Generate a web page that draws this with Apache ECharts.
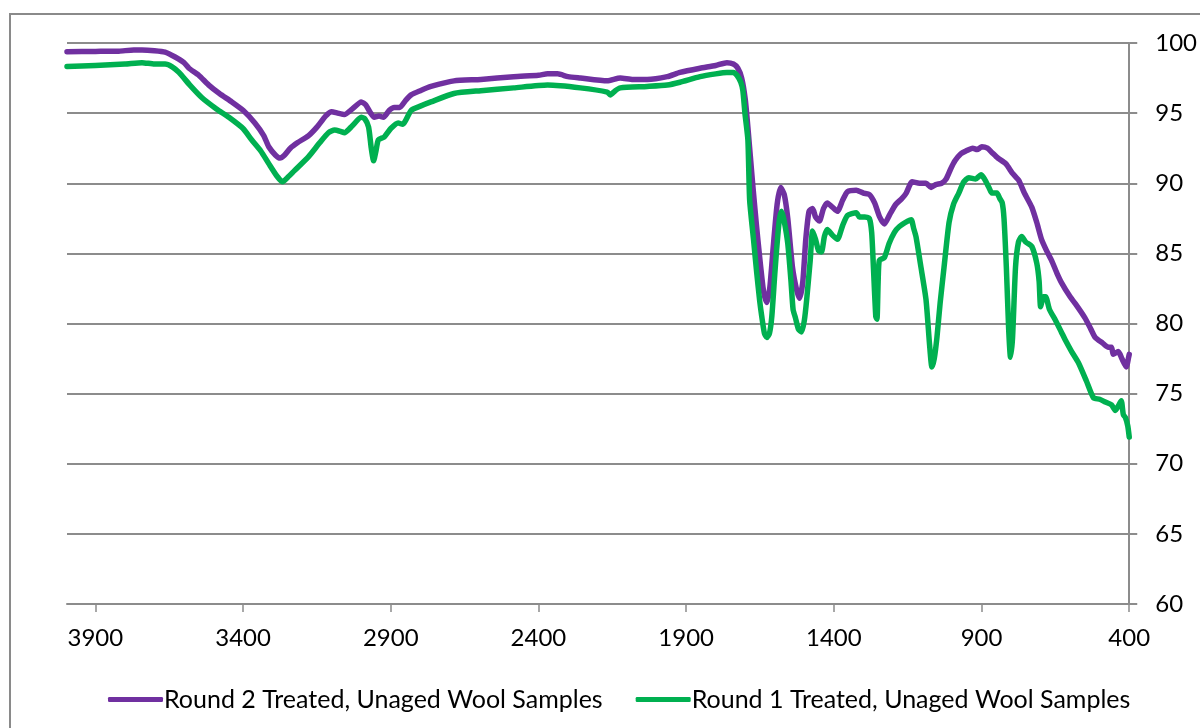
<!DOCTYPE html>
<html>
<head>
<meta charset="utf-8">
<script src="https://cdn.jsdelivr.net/npm/echarts@6/dist/echarts.min.js"></script>
<style>
  html, body { margin: 0; padding: 0; background: #ffffff; }
  #chart { width: 1200px; height: 728px; }
</style>
</head>
<body>
<div id="chart"></div>
<script>
// FTIR spectra of treated, unaged wool: % transmittance vs wavenumber (cm-1)
const seriesNames = ['Round 2 Treated, Unaged Wool Samples', 'Round 1 Treated, Unaged Wool Samples'];
const xTickValues = [400, 900, 1400, 1900, 2400, 2900, 3400, 3900];
const yTickValues = [60, 65, 70, 75, 80, 85, 90, 95, 100];

// Round 2 spectrum
const round2Wavenumber = [
  3996, 3900, 3820, 3770, 3742, 3700, 3664, 3630, 3600, 3583, 3550, 3516, 3480, 3438, 3400, 3360,
  3330, 3313, 3290, 3275, 3260, 3240, 3215, 3178, 3150, 3120, 3100, 3080, 3057, 3030, 3000, 2985,
  2968, 2956, 2940, 2925, 2905, 2888, 2870, 2850, 2831, 2800, 2764, 2686, 2595, 2484, 2400, 2369,
  2335, 2300, 2258, 2167, 2123, 2080, 2032, 1964, 1921, 1853, 1800, 1762, 1740, 1725, 1712, 1700,
  1691, 1675, 1662, 1651, 1640, 1634, 1627, 1617, 1605, 1592, 1580, 1568, 1556, 1540, 1525, 1516,
  1505, 1495, 1484, 1472, 1462, 1449, 1435, 1422, 1405, 1388, 1370, 1354, 1324, 1300, 1280, 1262,
  1245, 1229, 1210, 1190, 1170, 1155, 1135, 1110, 1088, 1071, 1055, 1035, 1020, 1005, 990, 970,
  953, 930, 915, 899, 880, 865, 845, 818, 795, 774, 755, 730, 713, 697, 680, 663,
  645, 629, 600, 582, 550, 530, 515, 490, 471, 460, 454, 437, 425, 410, 402, 400
];
const round2Transmittance = [
  99.38, 99.4, 99.42, 99.5, 99.5, 99.45, 99.35, 99.0, 98.6, 98.2, 97.7, 97.0, 96.4, 95.8, 95.2, 94.3,
  93.4, 92.6, 92.0, 91.8, 92.0, 92.5, 92.9, 93.4, 94.0, 94.8, 95.1, 95.0, 94.9, 95.3, 95.8, 95.6,
  95.0, 94.7, 94.8, 94.7, 95.2, 95.4, 95.4, 95.9, 96.3, 96.6, 96.9, 97.3, 97.4, 97.6, 97.7, 97.8,
  97.8, 97.6, 97.5, 97.3, 97.5, 97.4, 97.4, 97.6, 97.9, 98.2, 98.4, 98.6, 98.5, 98.2, 97.5, 96.0,
  94.0, 90.0, 87.0, 84.7, 82.6, 81.9, 81.5, 82.5, 85.5, 88.5, 89.7, 89.2, 87.5, 84.0, 82.3, 81.8,
  83.0, 86.0, 88.0, 88.2, 87.6, 87.3, 88.2, 88.6, 88.3, 88.0, 88.8, 89.4, 89.5, 89.3, 89.2, 88.6,
  87.6, 87.1, 87.8, 88.5, 88.9, 89.3, 90.1, 90.0, 90.0, 89.7, 89.9, 90.0, 90.3, 91.0, 91.6, 92.1,
  92.3, 92.5, 92.4, 92.6, 92.5, 92.2, 91.8, 91.4, 90.7, 90.2, 89.3, 88.3, 87.2, 86.0, 85.2, 84.5,
  83.6, 82.9, 81.9, 81.4, 80.4, 79.6, 79.0, 78.6, 78.3, 78.3, 77.8, 78.0, 77.5, 76.9, 77.6, 77.8
];

// Round 1 spectrum
const round1Wavenumber = [
  3996, 3900, 3800, 3742, 3700, 3664, 3640, 3617, 3580, 3539, 3490, 3448, 3400, 3371, 3340, 3313,
  3285, 3266, 3250, 3226, 3178, 3140, 3111, 3090, 3070, 3057, 3030, 3000, 2988, 2975, 2966, 2958,
  2950, 2942, 2922, 2900, 2875, 2860, 2831, 2800, 2764, 2686, 2595, 2484, 2369, 2258, 2167, 2157,
  2140, 2123, 2032, 1964, 1921, 1853, 1800, 1762, 1740, 1728, 1715, 1708, 1701, 1691, 1685, 1672,
  1661, 1651, 1644, 1635, 1627, 1618, 1610, 1600, 1594, 1585, 1577, 1568, 1556, 1545, 1538, 1530,
  1520, 1509, 1500, 1492, 1480, 1472, 1462, 1452, 1442, 1432, 1422, 1405, 1388, 1370, 1354, 1324,
  1314, 1295, 1280, 1272, 1266, 1258, 1254, 1250, 1246, 1229, 1213, 1195, 1179, 1150, 1138, 1130,
  1122, 1105, 1088, 1076, 1068, 1060, 1051, 1040, 1027, 1010, 995, 977, 960, 943, 920, 902,
  890, 875, 865, 848, 838, 830, 824, 816, 808, 802, 795, 785, 775, 764, 750, 730,
  713, 705, 700, 690, 683, 670, 649, 630, 616, 595, 572, 545, 521, 500, 481, 460,
  447, 435, 427, 420, 413, 405, 400
];
const round1Transmittance = [
  98.33, 98.4, 98.5, 98.6, 98.5, 98.5, 98.3, 97.9, 97.0, 96.1, 95.3, 94.7, 93.9, 93.1, 92.3, 91.4,
  90.5, 90.1, 90.4, 90.9, 91.9, 92.9, 93.6, 93.8, 93.7, 93.6, 94.1, 94.7, 94.6, 94.0, 92.5, 91.6,
  92.3, 93.1, 93.3, 93.9, 94.3, 94.2, 95.2, 95.5, 95.8, 96.4, 96.6, 96.8, 97.0, 96.8, 96.5, 96.3,
  96.6, 96.8, 96.9, 97.0, 97.2, 97.6, 97.8, 97.9, 97.9, 97.7, 97.2, 96.6, 95.0, 93.1, 88.8, 86.0,
  83.6, 81.6, 80.5, 79.3, 79.0, 79.3, 80.5, 83.5, 85.2, 87.3, 88.0, 87.3, 85.7, 83.0, 81.0, 80.4,
  79.6, 79.4, 80.2, 81.7, 84.5, 86.6, 86.0, 85.2, 85.1, 86.2, 86.7, 86.3, 86.0, 87.0, 87.7, 87.9,
  87.6, 87.6, 87.5, 86.5, 84.0, 80.5, 80.3, 83.0, 84.5, 84.7, 85.7, 86.5, 86.9, 87.3, 87.4, 86.8,
  86.2, 84.0, 81.7, 78.5, 76.9, 77.5, 79.0, 81.5, 84.0, 87.2, 88.5, 89.3, 90.1, 90.4, 90.3, 90.6,
  90.3, 89.7, 89.3, 89.3, 88.9, 88.6, 87.5, 84.0, 79.5, 77.6, 79.0, 84.0, 85.8, 86.2, 85.8, 85.5,
  84.3, 83.0, 81.2, 81.9, 81.9, 81.0, 80.2, 79.4, 78.8, 78.0, 77.2, 75.9, 74.7, 74.6, 74.4, 74.2,
  73.8, 74.2, 74.5, 73.5, 73.3, 72.7, 71.9
];

const toPairs = (xs, ys) => xs.map((x, i) => [x, ys[i]]);

const FONT = 'Lato';
const GRID_GRAY = '#8c8c8c';

const chart = echarts.init(document.getElementById('chart'), null, { renderer: 'canvas' });

chart.setOption({
  backgroundColor: '#ffffff',
  animation: false,
  textStyle: { fontFamily: FONT },
  graphic: [{
    type: 'rect',
    shape: { x: 10, y: 14, width: 1220, height: 760 },
    style: { fill: 'none', stroke: '#8a8a8a', lineWidth: 2 },
    silent: true,
    z: 0
  }],
  grid: { left: 67, right: 69, top: 43, bottom: 124, containLabel: false },
  legend: {
    data: seriesNames,
    left: 103,
    top: 682,
    itemWidth: 55,
    itemHeight: 5,
    itemGap: 33,
    icon: 'roundRect',
    textStyle: { fontFamily: FONT, fontSize: 25, color: '#000000', padding: [0, 0, 0, -4] }
  },
  xAxis: {
    type: 'value',
    inverse: true,
    min: 400,
    max: 3996,
    interval: 500,
    axisLine: { show: true, lineStyle: { color: GRID_GRAY, width: 2 } },
    axisTick: { show: true, length: 8, lineStyle: { color: GRID_GRAY, width: 1.5 }, customValues: xTickValues },
    axisLabel: {
      fontFamily: FONT, fontSize: 24, color: '#000000', margin: 22,
      customValues: xTickValues,
      formatter: (v) => String(v)
    },
    splitLine: { show: false }
  },
  yAxis: {
    type: 'value',
    position: 'right',
    min: 60,
    max: 100,
    interval: 5,
    axisLine: { show: true, lineStyle: { color: GRID_GRAY, width: 2 } },
    axisTick: { show: true, length: 8, lineStyle: { color: GRID_GRAY, width: 2 } },
    axisLabel: {
      fontFamily: FONT, fontSize: 24, color: '#000000', margin: 26,
      customValues: yTickValues,
      formatter: (v) => String(v)
    },
    splitLine: { show: true, lineStyle: { color: GRID_GRAY, width: 2 } }
  },
  series: [
    {
      name: seriesNames[0],
      type: 'line',
      data: toPairs(round2Wavenumber, round2Transmittance),
      showSymbol: false,
      smooth: 0.2,
      color: '#7030A0',
      lineStyle: { width: 5.5, color: '#7030A0', join: 'round', cap: 'round' },
      z: 2
    },
    {
      name: seriesNames[1],
      type: 'line',
      data: toPairs(round1Wavenumber, round1Transmittance),
      showSymbol: false,
      smooth: 0.2,
      color: '#00B050',
      lineStyle: { width: 5.5, color: '#00B050', join: 'round', cap: 'round' },
      z: 3
    }
  ]
});
</script>
</body>
</html>
